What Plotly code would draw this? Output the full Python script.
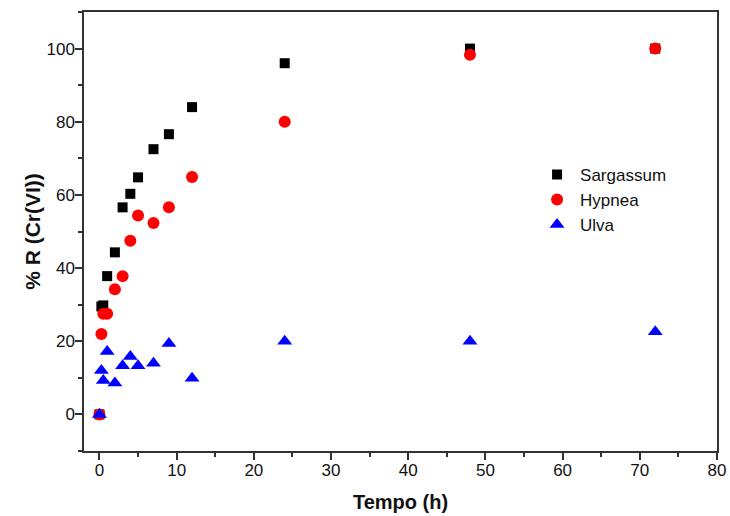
import plotly.graph_objects as go

# Data
t_sarg = [0, 0.25, 0.5, 1, 2, 3, 4, 5, 7, 9, 12, 24, 48, 72]
r_sarg = [0, 29.5, 29.8, 37.8, 44.3, 56.6, 60.3, 64.8, 72.5, 76.6, 84.0, 96.0, 100.0, 100.0]

t_hyp = [0, 0.25, 0.5, 1, 2, 3, 4, 5, 7, 9, 12, 24, 48, 72]
r_hyp = [0, 22.0, 27.5, 27.5, 34.2, 37.8, 47.5, 54.4, 52.3, 56.6, 64.9, 80.0, 98.3, 100.0]

t_ulva = [0, 0.25, 0.5, 1, 2, 3, 4, 5, 7, 9, 12, 24, 48, 72]
r_ulva = [0, 12.0, 9.3, 17.2, 8.6, 13.3, 15.8, 13.3, 14.0, 19.4, 9.9, 20.0, 20.0, 22.6]

names = ["Sargassum", "Hypnea", "Ulva"]
x_ticks = [0, 10, 20, 30, 40, 50, 60, 70, 80]
y_ticks = [0, 20, 40, 60, 80, 100]

FONT = "Liberation Sans, Arial, sans-serif"

fig = go.Figure()
fig.add_trace(go.Scatter(x=t_sarg, y=r_sarg, mode="markers", name=names[0],
                         marker=dict(symbol="square", size=10, color="#000000")))
fig.add_trace(go.Scatter(x=t_hyp, y=r_hyp, mode="markers", name=names[1],
                         marker=dict(symbol="circle", size=12, color="#ff0000")))
fig.add_trace(go.Scatter(x=t_ulva, y=r_ulva, mode="markers", name=names[2],
                         marker=dict(symbol="triangle-up", size=13, color="#0000ff")))

axis_common = dict(
    showline=True, linecolor="#333333", linewidth=1.5, mirror=True,
    showgrid=False, zeroline=False,
    ticks="outside", ticklen=7, tickwidth=1.5, tickcolor="#333333",
    tickfont=dict(family=FONT, size=17, color="#111111"),
    minor=dict(ticks="outside", ticklen=4, tickwidth=1.5, tickcolor="#333333", showgrid=False),
)

fig.update_xaxes(
    range=[-2, 80], tickvals=x_ticks, ticktext=[str(v) for v in x_ticks],
    minor_dtick=5, minor_tick0=0, ticklabelstandoff=-4,
    title=dict(text="<b>Tempo (h)</b>", font=dict(family=FONT, size=20, color="#111111"), standoff=16),
    **axis_common,
)
fig.update_yaxes(
    range=[-10, 110], tickvals=y_ticks, ticktext=[str(v) for v in y_ticks],
    minor_dtick=10, minor_tick0=0, ticklabelstandoff=-3,
    title=dict(text="<b>% R (Cr(VI))</b>", font=dict(family=FONT, size=21, color="#111111"), standoff=0),
    **axis_common,
)

fig.update_layout(
    width=730, height=516,
    margin=dict(l=84, r=13, t=12, b=65, autoexpand=False),
    paper_bgcolor="white", plot_bgcolor="white",
    showlegend=True,
    legend=dict(x=0.711, y=0.670, xanchor="left", yanchor="top",
                itemwidth=36,
                font=dict(family=FONT, size=17, color="#111111"),
                bgcolor="rgba(0,0,0,0)", borderwidth=0),
)

fig.write_html("out.html")
